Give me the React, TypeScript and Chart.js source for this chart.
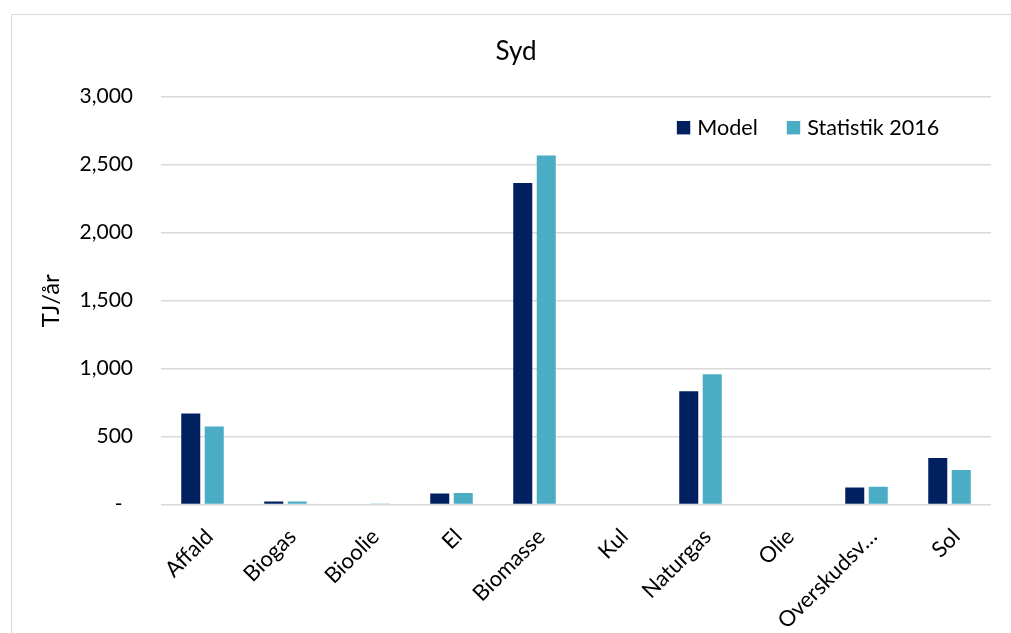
import React, { useEffect, useRef } from "react";
import { Chart, registerables } from "chart.js";

Chart.register(...registerables);

const categories = ["Affald", "Biogas", "Bioolie", "El", "Biomasse", "Kul", "Naturgas", "Olie", "Overskudsv…", "Sol"];
const modelValues = [670, 22, 0, 81, 2365, 0, 834, 0, 126, 343];
const statValues = [574, 22, 5, 86, 2567, 0, 958, 0, 131, 254];
const seriesNames = ["Model", "Statistik 2016"];
const seriesColors = ["#002060", "#4BACC6"];
const chartTitle = "Syd";
const yTitle = "TJ/år";

const FONT = "Lato";

const overlayPlugin = {
  id: "overlay",
  afterDraw(chart: any) {
    const ctx = chart.ctx;
    const area = chart.chartArea;
    ctx.save();
    // title
    ctx.fillStyle = "#000";
    ctx.font = `26px ${FONT}`;
    ctx.textAlign = "center";
    ctx.textBaseline = "middle";
    ctx.fillText(chartTitle, chart.width / 2, 37);
    // legend
    ctx.font = `21.6px ${FONT}`;
    ctx.textAlign = "left";
    const box = 13.4;
    const gapBoxText = 7;
    const gapItems = 29;
    const items = chart.data.datasets.map((d: any) => ({
      label: d.label,
      color: d.backgroundColor,
      w: box + gapBoxText + ctx.measureText(d.label).width,
    }));
    const total = items.reduce((s: number, it: any) => s + it.w, 0) + gapItems * (items.length - 1);
    let x = area.right - 51.7 - total;
    const cy = area.top + 31;
    items.forEach((it: any) => {
      ctx.fillStyle = it.color;
      ctx.fillRect(x, cy - box / 2, box, box);
      ctx.fillStyle = "#000";
      ctx.fillText(it.label, x + box + gapBoxText, cy);
      x += it.w + gapItems;
    });
    ctx.restore();
  },
};

function ChartView() {
  const ref = useRef<HTMLCanvasElement | null>(null);
  useEffect(() => {
    if (!ref.current) return;
    const chart = new Chart(ref.current, {
      type: "bar",
      data: {
        labels: categories,
        datasets: [
          {
            label: seriesNames[0],
            data: modelValues,
            backgroundColor: seriesColors[0],
            categoryPercentage: 0.566,
            barPercentage: 0.81,
          },
          {
            label: seriesNames[1],
            data: statValues,
            backgroundColor: seriesColors[1],
            categoryPercentage: 0.566,
            barPercentage: 0.81,
          },
        ],
      },
      options: {
        animation: false,
        responsive: true,
        maintainAspectRatio: false,
        layout: { padding: { top: 81.7, left: 0, right: 29, bottom: 0 } },
        plugins: {
          legend: { display: false },
          title: { display: false },
          tooltip: { enabled: false },
        },
        scales: {
          x: {
            grid: { display: false, drawTicks: false },
            border: { display: false },
            ticks: {
              maxRotation: 45,
              minRotation: 45,
              padding: 19,
              labelOffset: 7,
              autoSkip: false,
              color: "#000",
              font: { family: FONT, size: 22 },
            },
            afterFit(scale: any) {
              scale.height = 128.4;
            },
          },
          y: {
            min: 0,
            max: 3000,
            ticks: {
              stepSize: 500,
              padding: 28,
              color: "#000",
              font: { family: FONT, size: 21 },
              callback: (v: any) => (Number(v) === 0 ? "-\u2002" : Number(v).toLocaleString("en-US")),
            },
            grid: { color: "#d9d9d9", lineWidth: 1.6, drawTicks: false },
            border: { display: false },
            title: {
              display: true,
              text: yTitle,
              color: "#000",
              font: { family: FONT, size: 24 },
              padding: { top: 25, bottom: 0 },
            },
            afterFit(scale: any) {
              scale.width = 149;
            },
          },
        },
      },
      plugins: [overlayPlugin],
    } as any);
    return () => chart.destroy();
  }, []);
  return <canvas ref={ref} />;
}

export default function App() {
  return (
    <div style={{ position: "fixed", left: 0, top: 0, width: 1011, height: 633, overflow: "hidden", background: "#fff" }}>
      <div
        style={{
          position: "absolute",
          left: 11,
          top: 14,
          width: 1100,
          height: 700,
          border: "1.5px solid #d9d9d9",
          boxSizing: "border-box",
        }}
      />
      <div style={{ position: "absolute", left: 12, top: 15, width: 1008, height: 618 }}>
        <ChartView />
      </div>
    </div>
  );
}
